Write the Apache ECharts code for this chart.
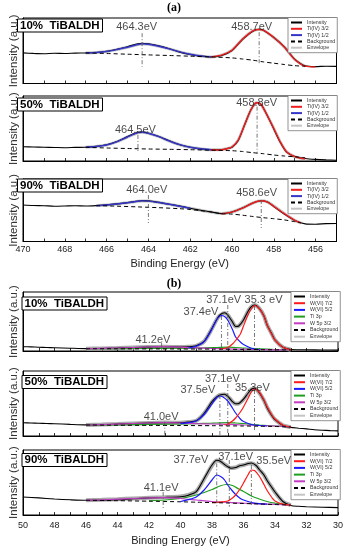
<!DOCTYPE html>
<html><head><meta charset="utf-8">
<script src="https://cdn.jsdelivr.net/npm/echarts@6/dist/echarts.min.js"></script>
<style>html,body{margin:0;padding:0;background:#fff}#c{width:348px;height:550px}</style>
</head><body><div id="c"></div>
<script>
// ---------- DATA (binding energy eV, intensity a.u.) ----------
const tiTicks = [470, 468, 466, 464, 462, 460, 458, 456];
const wTicks = [50, 48, 46, 44, 42, 40, 38, 36, 34, 32, 30];
const panelTitles = ['10%  TiBALDH', '50%  TiBALDH', '90%  TiBALDH', '10%  TiBALDH', '50%  TiBALDH', '90%  TiBALDH'];
const tiLegend = ['Intensity', 'Ti(IV) 3/2', 'Ti(IV) 1/2', 'Background', 'Envelope'];
const wLegend = ['Intensity', 'W(VI) 7/2', 'W(VI) 5/2', 'Ti 3p', 'W 5p 3/2', 'Background', 'Envelope'];

// Panel a1 : 10% TiBALDH, Ti 2p
const a1Int = [[470,30.6],[469.5,30.1],[469,29.8],[468.5,30.3],[468,30],[467.5,30.4],[467,30.6],[466.5,31],[466,32.2],[465.5,34.3],[465,36.8],[464.5,39.8],[464.3,40.3],[464,39.6],[463.5,37.6],[463,34.8],[462.5,31.4],[462,29],[461.5,27.4],[461,26.6],[460.5,28],[460,33],[459.5,44],[459,52.3],[458.7,54.2],[458.5,53.3],[458,46],[457.5,36.6],[457,24.3],[456.5,17.6],[456,16.9],[455.5,17.3],[455,17.1]];
const a1Red = [[461,26.6],[460.5,28.3],[460,33.3],[459.5,44.3],[459,52.6],[458.7,54],[458.5,53.3],[458,46],[457.5,36.6],[457,24],[456.5,17.3],[456,16.6]];
const a1Blue = [[467,30.6],[466.5,31],[466,32],[465.5,34],[465,36.3],[464.5,39],[464.3,39.6],[464,39.3],[463.5,37.3],[463,34.6],[462.5,31.6],[462,29.3],[461.5,27.6],[461,26.6]];
const a1Bg = [[467,30.6],[466,30],[465,29.3],[464,28.6],[463,28],[462,27.3],[461,26.6],[460,25.6],[459.5,24.5],[459,23.3],[458.5,21.6],[458,20.3],[457.5,19],[457,17.8],[456.5,17.3]];
const a1Env = [[467,30.6],[466.5,31],[466,32],[465.5,34],[465,36.3],[464.5,39],[464.3,39.6],[464,39.3],[463.5,37.3],[463,34.6],[462.5,31.6],[462,29.3],[461.5,27.6],[461,26.6],[460.5,28.3],[460,33.3],[459.5,44.3],[459,52.6],[458.7,54],[458.5,53.3],[458,46],[457.5,36.6],[457,24],[456.5,17.3]];
const a1Peaks = [464.3, 458.7];
const a1PeakSpan = [[50.3, 16.6], [51.3, 18.3]];
const a1Labels = ['464.3eV', '458.7eV'];
const a1LabelAt = [[464.56, 56.6], [459.06, 56.6]];

// Panel a2 : 50% TiBALDH
const a2Int = [[470,14.3],[469.5,14],[469,13.7],[468.5,13.5],[468,13.3],[467.5,13.6],[467,13.7],[466.5,14.6],[466,16.2],[465.5,19.5],[465,24.5],[464.5,28.6],[464.3,29],[464,27.8],[463.5,24.5],[463,20.2],[462.5,16.2],[462,13.8],[461.5,12.1],[461,11.2],[460.5,11.3],[460.2,12.6],[460,13.8],[459.7,20.6],[459.4,36],[459.1,51],[458.8,58.5],[458.6,56.5],[458.3,45],[458,32],[457.7,19],[457.4,9.2],[457,4.6],[456.5,2.5],[456,1.6],[455.5,1.1],[455,0.8]];
const a2Red = [[461,11],[460.6,11],[460.2,12.5],[460,14],[459.7,21],[459.4,36],[459.1,51],[458.9,57.5],[458.8,58.3],[458.6,56.3],[458.3,45],[458,32.5],[457.7,19.5],[457.4,9.5],[457,4.3],[456.7,2.7],[456.5,2.3]];
const a2Blue = [[467,13.7],[466.5,14.5],[466,16],[465.5,19.3],[465,24],[464.5,28.3],[464.3,28.8],[464,27.7],[463.5,24.3],[463,20],[462.5,16.3],[462,13.7],[461.5,12.2],[461,11.3]];
const a2Bg = [[467,13.7],[466,13],[465,12.5],[464,12],[463,11.7],[462,11.3],[461,10.8],[460,10.3],[459.5,9.5],[459,8.3],[458.5,7.3],[458,6],[457.5,5],[457,4.2],[456.5,3.3]];
const a2Env = [[467,13.7],[466.5,14.5],[466,16],[465.5,19.3],[465,24],[464.5,28.3],[464.3,28.8],[464,27.7],[463.5,24.3],[463,20],[462.5,16.3],[462,13.7],[461.5,12.2],[461,11.2],[460.6,11.2],[460.2,12.6],[460,14],[459.7,21],[459.4,36],[459.1,51],[458.9,57.5],[458.8,58.3],[458.6,56.3],[458.3,45],[458,32.5],[457.7,19.5],[457.4,9.5],[457,4.3],[456.7,2.7],[456.5,2.3]];
const a2Peaks = [464.5, 458.8];
const a2PeakSpan = [[26, 8], [54.3, 7]];
const a2Labels = ['464.5eV', '458.8eV'];
const a2LabelAt = [[464.62, 31], [458.82, 57.7]];

// Panel a3 : 90% TiBALDH
const a3Int = [[470,36.5],[469.5,36],[469,35.8],[468.5,35.3],[468,35.5],[467.5,35.8],[467,35.5],[466.5,35.9],[466,36.6],[465.5,37.6],[465,38.9],[464.5,40.4],[464.3,40.9],[464,40.6],[463.5,39.1],[463,37.3],[462.5,35.4],[462,33.3],[461.5,31.3],[461,29.6],[460.5,27.9],[460,29.5],[459.5,33.4],[459,38.6],[458.6,40.8],[458.3,39.4],[458,35],[457.5,27.5],[457,21],[456.5,17.6],[456,17.3],[455.5,17.9],[455,18]];
const a3Red = [[460.5,27.8],[460,29.4],[459.5,33.3],[459,38.5],[458.6,40.7],[458.3,39.3],[458,35.2],[457.5,27.8],[457,21.2],[456.7,18.7]];
const a3Blue = [[466.5,35.9],[466,36.5],[465.5,37.5],[465,38.7],[464.5,40.2],[464.3,40.6],[464,40.4],[463.5,39],[463,37.2],[462.5,35.2],[462,33.2]];
const a3Bg = [[466.5,35.9],[465.5,35.3],[464.5,34.6],[463.5,33.8],[462.5,32.8],[462,32],[461.5,30.8],[461,29.5],[460.5,27.8],[460,27.4],[459.5,26.3],[459,25],[458.5,23.8],[458,22.8],[457.5,21.6],[457,19.8],[456.7,18.7]];
const a3Env = [[466.5,36],[466,36.5],[465.5,37.5],[465,38.7],[464.5,40.2],[464.3,40.6],[464,40.4],[463.5,39],[463,37.2],[462.5,35.2],[462,33.2],[461.5,31.3],[461,29.5],[460.5,28],[460,29.5],[459.5,33.5],[459,38.5],[458.6,40.7],[458.3,39.5],[458,35.5],[457.5,28],[457,21.3],[456.7,18.5]];
const a3Peaks = [464.0, 458.6];
const a3PeakSpan = [[46.5, 18.5], [41.5, 13.5]];
const a3Labels = ['464.0eV', '458.6eV'];
const a3LabelAt = [[464.08, 51.5], [458.82, 48.2]];

// Panel b1 : 10% TiBALDH, W 4f
const b1Int = [[50,4.3],[49.5,4.1],[49,3.8],[48.5,3.5],[48,3.3],[47,2.8],[46,2.4],[45,2.5],[44,2.9],[43,3.4],[42,3.9],[41,4.3],[40,3.9],[39.5,4.2],[39,5.2],[38.5,9.6],[38,22.7],[37.7,31.5],[37.5,36],[37.2,38.3],[37,36],[36.7,29],[36.5,24.5],[36.3,25],[36,31],[35.7,40],[35.5,44.3],[35.3,46],[35,42.7],[34.7,35],[34.5,26],[34.2,17],[34,11],[33.5,3.7],[33,1.5],[32.5,1.3],[32,1.2],[31,1],[30,0.9]];
const b1Red = [[37.5,1.8],[37,3.5],[36.7,7],[36.5,10.5],[36.2,17],[36,25],[35.7,36.5],[35.5,42],[35.3,45.5],[35,42.5],[34.7,35],[34.5,26],[34.2,16.5],[34,11],[33.5,3.7],[33,1.2]];
const b1Blue = [[39.5,3],[39,4.8],[38.5,9.3],[38,22],[37.7,31.5],[37.4,35.5],[37.2,34.5],[37,31],[36.7,21.5],[36.5,14],[36.2,9],[36,6.5],[35.5,2.8],[35,1.5]];
const b1Green = [[46,2.3],[44,2.4],[42,2.6],[40,2.8],[39,3],[38,3.3],[37.5,3.6],[37,3.8],[36.5,3.5],[36,3],[35,2.2],[34,1.5],[33,1]];
const b1Mag = [[46,2.3],[45,2.6],[44,3],[43,3.5],[42,4],[41.2,4.3],[40.5,4.1],[40,3.8],[39,3.1],[38,2.5],[37,2.1],[36,1.8],[35,1.5],[34,1.2],[33,1]];
const b1Bg = [[46,2.3],[44,2.2],[42,2.1],[40,2],[38,1.9],[36,1.6],[35,1.4],[34,1.2],[33,1]];
const b1Env = [[46,2.3],[45,2.5],[44,2.9],[43,3.4],[42,3.9],[41,4.3],[40,3.9],[39.5,4.2],[39,5.2],[38.5,9.6],[38,22.5],[37.7,31.5],[37.5,35.5],[37.2,38],[37,36],[36.7,29],[36.5,24.5],[36.3,25],[36,31],[35.7,40],[35.5,44.3],[35.3,46],[35,42.7],[34.7,35],[34.5,26],[34.2,17],[34,11],[33.5,3.7],[33,1.2]];
const b1Peaks = [41.2, 37.4, 37.0, 35.3];
const b1PeakSpan = [[8, 0.3], [35, 0.3], [46, 0.3], [45, 0.5]];
const b1Labels = ['41.2eV', '37.4eV', '37.1eV', '35.3 eV'];
const b1LabelAt = [[41.75, 11], [38.7, 39.3], [37.26, 51], [34.73, 51]];

// Panel b2 : 50% TiBALDH
const b2Int = [[50,13.3],[49.5,13],[49,12.8],[48.5,12.5],[48,12.3],[47,11.6],[46,11.1],[45,11.3],[44,11.9],[43,12.5],[42,13],[41,13.4],[40,13.3],[39.5,13.9],[39,15.2],[38.5,22.7],[38,34.3],[37.7,39],[37.5,41],[37.2,41.7],[36.9,38],[36.7,34.3],[36.5,32.2],[36.3,32.5],[36,36.8],[35.7,43],[35.5,46.7],[35.3,47.7],[35,43.3],[34.7,35.5],[34.5,28.3],[34.2,20.3],[34,16.3],[33.5,10.6],[33,8.6],[32.5,7.8],[32,7.1],[31.5,6.3],[31,5.8],[30.5,5.4],[30,5.1]];
const b2Red = [[37.2,11],[37,12],[36.7,15],[36.5,18],[36.2,24],[36,29],[35.7,38],[35.5,44],[35.3,47],[35,44],[34.7,36],[34.5,29.3],[34.2,21],[34,17],[33.5,11],[33,9]];
const b2Blue = [[40,12.3],[39.5,13.3],[39,15],[38.5,21.5],[38,32],[37.7,38.5],[37.5,40],[37.3,39],[37,35],[36.7,28],[36.5,23],[36.2,17],[36,14.5],[35.5,11.5],[35,10.5],[34.5,10]];
const b2Green = [[46,11],[44,11.2],[42,11.6],[40,12],[39,12.4],[38,12.8],[37.5,13.2],[37,13.4],[36.5,13],[36,12.4],[35.5,11.7],[35,11],[34,10],[33,9]];
const b2Mag = [[46,11],[45,11.4],[44,11.9],[43,12.5],[42,13],[41,13.3],[40,13],[39,12.4],[38,12],[37,11.6],[36,11],[35,10.5],[34,10],[33,9.2]];
const b2Bg = [[46,11],[44,10.8],[42,10.6],[40,10.5],[38,10.3],[36,10],[35,9.8],[34,9.5],[33,9]];
const b2Env = [[46,11],[45,11.4],[44,11.9],[43,12.5],[42,13],[41,13.4],[40,13.3],[39.5,13.9],[39,15.2],[38.5,22.5],[38,34],[37.7,39],[37.5,41],[37.2,41.5],[36.9,38],[36.7,34.3],[36.5,32.3],[36.3,32.5],[36,36.5],[35.7,43],[35.5,46.5],[35.3,47.5],[35,43.3],[34.7,35.5],[34.5,28.5],[34.2,20.5],[34,16.5],[33.5,10.8],[33,8.8]];
const b2Peaks = [41.0, 37.5, 37.0, 35.3];
const b2PeakSpan = [[14.3, 1], [41, 1], [52, 1], [46, 4.3]];
const b2Labels = ['41.0eV', '37.5eV', '37.1eV', '35.3eV'];
const b2LabelAt = [[41.23, 19.3], [38.9, 46], [37.34, 57], [35.44, 47.7]];

// Panel b3 : 90% TiBALDH
const b3Int = [[50,18],[49,17.1],[48,16],[47,15.2],[46,14.7],[45,14.8],[44,15.2],[43,16.2],[42,17],[41,17.5],[40,18.3],[39.5,19.8],[39,23.3],[38.5,36.5],[38,50],[37.7,54.7],[37.5,54],[37.2,50.5],[37,48.3],[36.8,46.8],[36.5,47.5],[36.2,49.5],[36,50],[35.7,51.5],[35.5,52],[35.2,49.5],[35,45.5],[34.7,40],[34.5,34.5],[34.2,27.5],[34,23],[33.5,13.5],[33,9.5],[32.5,8.7],[32,8.3],[31,7.8],[30,7.4]];
const b3Red = [[38,12.4],[37.5,12.8],[37,14],[36.7,17],[36.5,20],[36.2,26.5],[36,32],[35.7,40.5],[35.5,45],[35.3,44.5],[35,39],[34.7,30.5],[34.5,24.5],[34.2,17.5],[34,14],[33.5,10.8],[33,9.8]];
const b3Blue = [[40,13.5],[39.5,15.3],[39,18],[38.5,25],[38,35],[37.7,40],[37.4,38],[37.2,35],[37,30],[36.7,24],[36.5,20.5],[36.2,16.5],[36,15],[35.5,12.5],[35,11.3],[34.5,10.8]];
const b3Green = [[42,14.2],[41,15],[40,16.5],[39.5,18],[39,20],[38.5,22.5],[38,25.5],[37.5,29],[37.1,30.5],[36.7,29.5],[36.3,26],[36,23.5],[35.5,19],[35,16],[34.5,13.5],[34,11.8],[33.5,10.8],[33,10]];
const b3Mag = [[46,14.7],[45,15.2],[44,15.8],[43,16.5],[42,17],[41.1,17.3],[40,16.5],[39,15],[38,13.5],[37,12.6],[36,11.8],[35,11.2],[34,10.6],[33,9.8]];
const b3Bg = [[46,14.7],[44,14.3],[42,13.8],[40,13.2],[39,12.8],[38,12.4],[37,12],[36,11.5],[35,11],[34,10.5],[33,9.8]];
const b3Env = [[46,14.7],[45,15.2],[44,15.8],[43,16.5],[42,17.2],[41,17.8],[40,18.6],[39.5,20],[39,23.5],[38.5,36],[38,49.5],[37.7,54.5],[37.5,54],[37.2,50.5],[37,48.5],[36.8,47],[36.5,47.5],[36.2,49.5],[36,50],[35.7,51.5],[35.5,51.8],[35.2,49.5],[35,45.5],[34.7,40],[34.5,34.5],[34.2,27.5],[34,22.8],[33.5,13.5],[33,9.8]];
const b3Peaks = [41.1, 37.7, 36.9, 35.5];
const b3PeakSpan = [[23, 5], [51.7, 8.3], [55, 8.3], [50, 8.3]];
const b3Labels = ['41.1eV', '37.7eV', '37.1eV', '35.5eV'];
const b3LabelAt = [[41.23, 26.7], [39.34, 55], [36.5, 58.3], [34.08, 54]];

// ---------- LAYOUT / STYLE ----------
const FONT = 'Liberation Sans, Arial, sans-serif';
const grids = [
  {left: 17, top: 18, width: 319.5, height: 65.5},
  {left: 17, top: 96, width: 319.5, height: 65},
  {left: 17, top: 179, width: 319.5, height: 62.5},
  {left: 21, top: 292, width: 317, height: 59},
  {left: 21, top: 371, width: 317, height: 65},
  {left: 21, top: 450, width: 317, height: 65}
];
const yMax = [65.5, 65, 62.5, 59, 65, 65];

const STY = {
  'Envelope': {color: '#c4c4c4', width: 3},
  'EnvelopeW': {color: '#a9a9a9', width: 4},
  'Intensity': {color: '#000', width: 1.1},
  'Ti(IV) 3/2': {color: '#ee1d1d', width: 1.4},
  'Ti(IV) 1/2': {color: '#3535c8', width: 1.4},
  'W(VI) 7/2': {color: '#ff1a1a', width: 1.2},
  'W(VI) 5/2': {color: '#1a1aff', width: 1.2},
  'Ti 3p': {color: '#1f9f1f', width: 1.2},
  'W 5p 3/2': {color: '#c43cc4', width: 1.2},
  'Background': {color: '#000', width: 1, type: [4, 3]}
};

const panels = [
  {curves: [['Envelope', a1Env], ['Intensity', a1Int], ['Ti(IV) 1/2', a1Blue], ['Ti(IV) 3/2', a1Red], ['Background', a1Bg]], peaks: a1Peaks, span: a1PeakSpan, labels: a1Labels, at: a1LabelAt},
  {curves: [['Envelope', a2Env], ['Intensity', a2Int], ['Ti(IV) 1/2', a2Blue], ['Ti(IV) 3/2', a2Red], ['Background', a2Bg]], peaks: a2Peaks, span: a2PeakSpan, labels: a2Labels, at: a2LabelAt},
  {curves: [['Envelope', a3Env], ['Intensity', a3Int], ['Ti(IV) 1/2', a3Blue], ['Ti(IV) 3/2', a3Red], ['Background', a3Bg]], peaks: a3Peaks, span: a3PeakSpan, labels: a3Labels, at: a3LabelAt},
  {curves: [['Envelope', b1Env], ['Intensity', b1Int], ['Ti 3p', b1Green], ['W 5p 3/2', b1Mag], ['W(VI) 5/2', b1Blue], ['W(VI) 7/2', b1Red], ['Background', b1Bg]], peaks: b1Peaks, span: b1PeakSpan, labels: b1Labels, at: b1LabelAt},
  {curves: [['Envelope', b2Env], ['Intensity', b2Int], ['Ti 3p', b2Green], ['W 5p 3/2', b2Mag], ['W(VI) 5/2', b2Blue], ['W(VI) 7/2', b2Red], ['Background', b2Bg]], peaks: b2Peaks, span: b2PeakSpan, labels: b2Labels, at: b2LabelAt},
  {curves: [['Envelope', b3Env], ['Intensity', b3Int], ['Ti 3p', b3Green], ['W 5p 3/2', b3Mag], ['W(VI) 5/2', b3Blue], ['W(VI) 7/2', b3Red], ['Background', b3Bg]], peaks: b3Peaks, span: b3PeakSpan, labels: b3Labels, at: b3LabelAt}
];

const series = [];
panels.forEach((p, i) => {
  const isW = i >= 3;
  p.curves.forEach(([name, data]) => {
    const s = (name === 'Envelope' && isW) ? STY['EnvelopeW'] : STY[name];
    series.push({
      type: 'line', name: name, xAxisIndex: i, yAxisIndex: i, data: data,
      symbol: 'none', smooth: 0.25, silent: true,
      lineStyle: {color: s.color, width: s.width, type: s.type || 'solid'},
      itemStyle: {color: s.color}
    });
  });
  p.peaks.forEach((e, k) => {
    series.push({
      type: 'line', name: 'peak-' + i + '-' + k, xAxisIndex: i, yAxisIndex: i,
      data: [[e, p.span[k][0]], [e, p.span[k][1]]], symbol: 'none', silent: true,
      lineStyle: {color: '#555', width: 0.8, type: [4, 2, 1, 2]}
    });
  });
  series.push({
    type: 'scatter', name: 'labels-' + i, xAxisIndex: i, yAxisIndex: i, silent: true,
    symbolSize: 1, itemStyle: {color: 'rgba(0,0,0,0)'},
    data: p.labels.map((t, k) => ({name: t, value: p.at[k]})),
    label: {show: true, position: 'inside', formatter: q => q.name, color: '#1a1a1a', fontSize: 11, fontFamily: FONT},
    z: 10
  });
});

const xAxis = grids.map((g, i) => {
  const isW = i >= 3;
  const bottom = (i === 2 || i === 5);
  const ticks = isW ? wTicks : tiTicks;
  return {
    gridIndex: i, type: 'value', inverse: true,
    min: isW ? 30 : 455, max: isW ? 50 : 470, interval: 1,
    axisLine: {show: true, lineStyle: {color: '#000', width: 1}},
    axisTick: {show: true, inside: true, length: 3, lineStyle: {color: '#000', width: 0.8}},
    axisLabel: {show: bottom, showMinLabel: true, showMaxLabel: true, margin: isW ? 6 : 4, fontSize: 9, color: '#222', fontFamily: FONT,
      formatter: v => ticks.indexOf(v) >= 0 ? String(v) : ''},
    splitLine: {show: false},
    name: bottom ? 'Binding Energy (eV)' : '', nameLocation: 'middle', nameGap: isW ? 20 : 17,
    nameTextStyle: {fontSize: 11, color: '#222', fontFamily: FONT}
  };
});
const yAxis = grids.map((g, i) => ({
  gridIndex: i, type: 'value', min: 0, max: yMax[i],
  axisLine: {show: true, lineStyle: {color: '#000', width: 1}},
  axisTick: {show: false}, axisLabel: {show: false}, splitLine: {show: false},
  name: 'Intensity (a.u.)', nameLocation: 'middle', nameGap: 3,
  nameTextStyle: {fontSize: 11.5, color: '#333', fontFamily: FONT}
}));

const legend = grids.map((g, i) => {
  const isW = i >= 3;
  return {
    orient: 'vertical', left: isW ? 291 : 288, top: g.top - 0.5,
    itemWidth: 11, itemHeight: 5, itemGap: isW ? 0.7 : 0.3,
    padding: [2, 2, 2, 2], borderColor: '#777', borderWidth: 0.8, backgroundColor: '#fff',
    itemStyle: {opacity: 0, borderWidth: 0},
    textStyle: {fontSize: 5.3, lineHeight: 6, color: '#333', fontFamily: FONT},
    selectedMode: false, data: isW ? wLegend : tiLegend
  };
});

const title = [
  {text: '(a)', left: 'center', top: 2, padding: 0, textStyle: {fontFamily: 'Liberation Serif, serif', fontWeight: 'bold', fontSize: 12, color: '#000'}},
  {text: '(b)', left: 'center', top: 278, padding: 0, textStyle: {fontFamily: 'Liberation Serif, serif', fontWeight: 'bold', fontSize: 12, color: '#000'}}
];
const boxTops = [18.5, 97.5, 178.5, 296.5, 375, 453];
panelTitles.forEach((t, i) => {
  title.push({
    text: t, left: i >= 3 ? 21.5 : 17, top: boxTops[i], padding: [1, 3, 1, 3],
    borderColor: '#000', borderWidth: 1, backgroundColor: '#fff',
    textStyle: {fontSize: 11.5, lineHeight: 12, fontWeight: 'bold', color: '#000', fontFamily: FONT}
  });
});

const chart = echarts.init(document.getElementById('c'), null, {renderer: 'canvas'});
chart.setOption({
  animation: false,
  backgroundColor: '#fff',
  textStyle: {fontFamily: FONT},
  title: title,
  legend: legend,
  grid: grids.map(g => Object.assign({show: true, borderColor: '#000', borderWidth: 1, backgroundColor: 'transparent'}, g)),
  xAxis: xAxis,
  yAxis: yAxis,
  series: series
});
</script></body></html>
